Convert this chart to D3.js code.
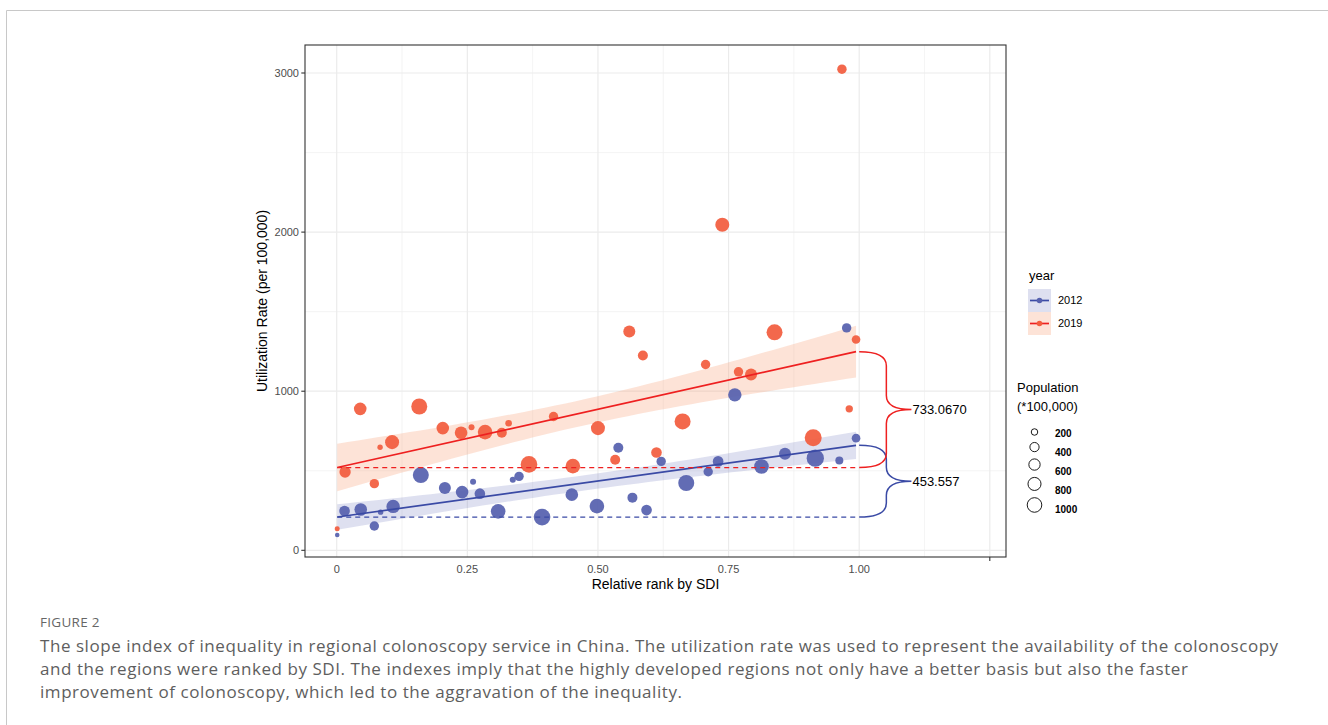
<!DOCTYPE html>
<html>
<head>
<meta charset="utf-8">
<script src="https://cdn.jsdelivr.net/npm/d3@7"></script>
<style>
  body { margin: 0; background: #fff; }
  svg { display: block; }
  .tick-label { font-family: "Liberation Sans", Arial, sans-serif; font-size: 11px; fill: #4d4d4d; }
  .axis-title { font-family: "Liberation Sans", Arial, sans-serif; font-size: 14px; fill: #000; }
  .legend-text { font-family: "Liberation Sans", Arial, sans-serif; fill: #000; }
  .caption { font-family: "Open Sans", sans-serif; fill: #5e5e5e; }
</style>
</head>
<body>
<div id="svg_container"></div>
<script>
/* -----------------------
data
------------------------- */

var years = ["2012", "2019"];

var rank2012 = [0.001, 0.015, 0.046, 0.072, 0.084, 0.108, 0.161, 0.207, 0.240, 0.261, 0.274, 0.309, 0.337, 0.349, 0.393, 0.450,
  0.498, 0.539, 0.566, 0.593, 0.621, 0.669, 0.711, 0.730, 0.762, 0.813, 0.858, 0.916, 0.962, 0.976, 0.994];
var rate2012 = [96, 247, 257, 153, 240, 276, 473, 391, 366, 431, 356, 245, 444, 465, 209, 350,
  278, 645, 331, 253, 559, 423, 494, 559, 977, 527, 607, 579, 565, 1398, 705];
var pop2012 = [100, 530, 745, 415, 137, 840, 1200, 676, 745, 169, 530, 1000, 169, 415, 1300, 745,
  1000, 469, 469, 530, 415, 1200, 415, 530, 840, 1000, 676, 1400, 300, 415, 350];

var rank2019 = [0.001, 0.016, 0.045, 0.072, 0.083, 0.106, 0.158, 0.203, 0.238, 0.258, 0.284, 0.316, 0.329, 0.368, 0.415, 0.452,
  0.500, 0.533, 0.560, 0.586, 0.612, 0.662, 0.706, 0.738, 0.769, 0.793, 0.838, 0.912, 0.967, 0.981, 0.994];
var rate2019 = [136, 492, 889, 419, 648, 680, 904, 768, 739, 774, 743, 739, 799, 540, 841, 529,
  768, 569, 1375, 1224, 615, 810, 1168, 2046, 1122, 1105, 1370, 707, 3024, 889, 1325];
var pop2019 = [117, 600, 745, 415, 137, 920, 1200, 745, 745, 169, 1000, 469, 204, 1300, 415, 1000,
  920, 469, 676, 469, 530, 1200, 415, 920, 415, 676, 1200, 1350, 415, 255, 350];

// fitted lines (intercept at rank 0, slope = SII) and confidence band widths
var fitIntercept = [209, 520];
var fitSlope = [453.557, 733.067];
var ciMin = [48, 82];
var ciLeft = [80, 150];
var ciCenter = [0.47, 0.47];
var siiLabels = ["453.557", "733.0670"];

var xTicks = [0, 0.25, 0.5, 0.75, 1.0];
var xTickLabels = ["0", "0.25", "0.50", "0.75", "1.00"];
var yTicks = [0, 1000, 2000, 3000];
var popBreaks = [200, 400, 600, 800, 1000];

var captionLines = [
  "The slope index of inequality in regional colonoscopy service in China. The utilization rate was used to represent the availability of the colonoscopy",
  "and the regions were ranked by SDI. The indexes imply that the highly developed regions not only have a better basis but also the faster",
  "improvement of colonoscopy, which led to the aggravation of the inequality."
];

/* -----------------------
main variables
------------------------- */

var width = 1328, height = 725;
var panel = {left: 305, right: 1006, top: 45, bottom: 557};

var pointColor = ["#5661ae", "#f25d3e"];
var lineColor = ["#3a4aa5", "#ee2020"];
var bandColor = ["#6f7bc0", "#f8a27a"];
var bandOpacity = [0.23, 0.3];

var series = [
  {rank: rank2012, rate: rate2012, pop: pop2012},
  {rank: rank2019, rate: rate2019, pop: pop2019}
];

var svg = d3.select("#svg_container")
  .append("svg")
  .attr("width", width)
  .attr("height", height);

// figure frame
svg.append("path")
  .attr("d", "M6.5,725 L6.5,10.5 L1328,10.5")
  .attr("fill", "none")
  .attr("stroke", "#c8c8c8")
  .attr("stroke-width", 1);

var x = d3.scaleLinear().domain([-0.0607, 1.281]).range([panel.left, panel.right]);
var y = d3.scaleLinear().domain([-42, 3176]).range([panel.bottom, panel.top]);
var r = d3.scaleSqrt().domain([0, 1000]).range([0, 7.3]);

var plot = svg.append("g");

/* -----------------------
grid
------------------------- */

var xMajor = d3.range(0, 1.26, 0.25);
var xMinor = d3.range(0.125, 1.2, 0.25);
var yMajor = yTicks;
var yMinor = [500, 1500, 2500];

plot.selectAll(".gx-minor").data(xMinor).enter().append("line")
  .attr("x1", function(d) { return x(d); }).attr("x2", function(d) { return x(d); })
  .attr("y1", panel.top).attr("y2", panel.bottom)
  .attr("stroke", "#efefef").attr("stroke-width", 0.7);
plot.selectAll(".gy-minor").data(yMinor).enter().append("line")
  .attr("y1", function(d) { return y(d); }).attr("y2", function(d) { return y(d); })
  .attr("x1", panel.left).attr("x2", panel.right)
  .attr("stroke", "#efefef").attr("stroke-width", 0.7);
plot.selectAll(".gx").data(xMajor).enter().append("line")
  .attr("x1", function(d) { return x(d); }).attr("x2", function(d) { return x(d); })
  .attr("y1", panel.top).attr("y2", panel.bottom)
  .attr("stroke", "#ebebeb").attr("stroke-width", 1.2);
plot.selectAll(".gy").data(yMajor).enter().append("line")
  .attr("y1", function(d) { return y(d); }).attr("y2", function(d) { return y(d); })
  .attr("x1", panel.left).attr("x2", panel.right)
  .attr("stroke", "#ebebeb").attr("stroke-width", 1.2);

/* -----------------------
bands, points, lines
------------------------- */

function fit(i, t) { return fitIntercept[i] + fitSlope[i] * t; }
function halfWidth(i, t) {
  var k = (ciLeft[i] * ciLeft[i] - ciMin[i] * ciMin[i]) / (ciCenter[i] * ciCenter[i]);
  return Math.sqrt(ciMin[i] * ciMin[i] + k * (t - ciCenter[i]) * (t - ciCenter[i]));
}

series.forEach(function(s, i) {
  var ext = d3.extent(s.rank);
  var ts = d3.range(0, 51).map(function(j) { return ext[0] + (ext[1] - ext[0]) * j / 50; });
  var area = d3.area()
    .x(function(t) { return x(t); })
    .y0(function(t) { return y(fit(i, t) - halfWidth(i, t)); })
    .y1(function(t) { return y(fit(i, t) + halfWidth(i, t)); });
  plot.append("path")
    .attr("d", area(ts))
    .attr("fill", bandColor[i])
    .attr("opacity", bandOpacity[i]);
});

series.forEach(function(s, i) {
  var pts = s.rank.map(function(d, j) { return {rank: d, rate: s.rate[j], pop: s.pop[j]}; });
  plot.selectAll(".pt" + i).data(pts).enter().append("circle")
    .attr("cx", function(d) { return x(d.rank); })
    .attr("cy", function(d) { return y(d.rate); })
    .attr("r", function(d) { return r(d.pop); })
    .attr("fill", pointColor[i])
    .attr("fill-opacity", 0.93);
});

function brace(x0, x1, x2, y0, y1, rr) {
  var ym = (y0 + y1) / 2;
  return "M" + x0 + "," + y0 +
    " Q" + x1 + "," + y0 + " " + x1 + "," + (y0 + rr) +
    " L" + x1 + "," + (ym - rr) +
    " Q" + x1 + "," + ym + " " + x2 + "," + ym +
    " Q" + x1 + "," + ym + " " + x1 + "," + (ym + rr) +
    " L" + x1 + "," + (y1 - rr) +
    " Q" + x1 + "," + y1 + " " + x0 + "," + y1;
}

series.forEach(function(s, i) {
  var ext = d3.extent(s.rank);
  // fitted line
  plot.append("line")
    .attr("x1", x(ext[0])).attr("y1", y(fit(i, ext[0])))
    .attr("x2", x(ext[1])).attr("y2", y(fit(i, ext[1])))
    .attr("stroke", lineColor[i]).attr("stroke-width", 1.7);
  // dashed baseline
  plot.append("line")
    .attr("x1", x(ext[0])).attr("y1", y(fitIntercept[i]))
    .attr("x2", x(1.0)).attr("y2", y(fitIntercept[i]))
    .attr("stroke", lineColor[i]).attr("stroke-width", 1.3)
    .attr("stroke-dasharray", "5,4");
  // brace
  var top = y(fit(i, ext[1])), bot = y(fitIntercept[i]);
  plot.append("path")
    .attr("d", brace(x(1.0), x(1.052), x(1.1), top, bot, 14))
    .attr("fill", "none")
    .attr("stroke", lineColor[i]).attr("stroke-width", 1.5);
  plot.append("text")
    .attr("class", "legend-text")
    .attr("x", x(1.1) + 1)
    .attr("y", (top + bot) / 2)
    .attr("dy", "0.35em")
    .style("font-size", "13px")
    .text(siiLabels[i]);
});

/* -----------------------
panel border & axes
------------------------- */

plot.append("rect")
  .attr("x", panel.left).attr("y", panel.top)
  .attr("width", panel.right - panel.left).attr("height", panel.bottom - panel.top)
  .attr("fill", "none").attr("stroke", "#333").attr("stroke-width", 1.1);

plot.selectAll(".yt").data(yTicks).enter().append("line")
  .attr("x1", panel.left - 3.7).attr("x2", panel.left)
  .attr("y1", function(d) { return y(d); }).attr("y2", function(d) { return y(d); })
  .attr("stroke", "#333").attr("stroke-width", 1.1);
plot.selectAll(".ytl").data(yTicks).enter().append("text")
  .attr("class", "tick-label")
  .attr("x", panel.left - 6)
  .attr("y", function(d) { return y(d); })
  .attr("dy", "0.35em")
  .attr("text-anchor", "end")
  .text(function(d) { return d; });

plot.selectAll(".xtl").data(xTicks).enter().append("text")
  .attr("class", "tick-label")
  .attr("x", function(d) { return x(d); })
  .attr("y", panel.bottom + 12)
  .attr("dy", "0.35em")
  .attr("text-anchor", "middle")
  .text(function(d, i) { return xTickLabels[i]; });
plot.append("line")
  .attr("x1", x(1.25)).attr("x2", x(1.25))
  .attr("y1", panel.bottom).attr("y2", panel.bottom + 4)
  .attr("stroke", "#333").attr("stroke-width", 1.1);

plot.append("text")
  .attr("class", "axis-title")
  .attr("x", (panel.left + panel.right) / 2)
  .attr("y", 589)
  .attr("text-anchor", "middle")
  .text("Relative rank by SDI");

plot.append("text")
  .attr("class", "axis-title")
  .attr("transform", "translate(267," + ((panel.top + panel.bottom) / 2) + ") rotate(-90)")
  .attr("text-anchor", "middle")
  .text("Utilization Rate (per 100,000)");

/* -----------------------
legends
------------------------- */

var leg = svg.append("g");
leg.append("text").attr("class", "legend-text")
  .attr("x", 1029).attr("y", 280).style("font-size", "13px").text("year");

years.forEach(function(yr, i) {
  var top = 289 + i * 23;
  leg.append("rect")
    .attr("x", 1028).attr("y", top).attr("width", 23).attr("height", 23)
    .attr("fill", bandColor[i]).attr("opacity", bandOpacity[i]);
  leg.append("line")
    .attr("x1", 1030).attr("x2", 1049).attr("y1", top + 11.5).attr("y2", top + 11.5)
    .attr("stroke", lineColor[i]).attr("stroke-width", 1.7);
  leg.append("circle")
    .attr("cx", 1039.5).attr("cy", top + 11.5).attr("r", 2.8)
    .attr("fill", pointColor[i]);
  leg.append("text").attr("class", "legend-text")
    .attr("x", 1058).attr("y", top + 11.5).attr("dy", "0.35em")
    .style("font-size", "11px").text(yr);
});

leg.append("text").attr("class", "legend-text")
  .attr("x", 1017).attr("y", 392).style("font-size", "13px").text("Population");
leg.append("text").attr("class", "legend-text")
  .attr("x", 1017).attr("y", 411).style("font-size", "13px").text("(*100,000)");

var cy = 432;
popBreaks.forEach(function(p, i) {
  if (i > 0) cy += r(popBreaks[i - 1]) + r(p) + 7.2;
  leg.append("circle")
    .attr("cx", 1034.5).attr("cy", cy).attr("r", r(p))
    .attr("fill", "none").attr("stroke", "#000").attr("stroke-width", 0.9);
  leg.append("text").attr("class", "legend-text")
    .attr("x", 1055).attr("y", 433 + i * 19.1).attr("dy", "0.35em")
    .style("font-size", "10px").style("font-weight", "bold")
    .text(p);
});

/* -----------------------
caption
------------------------- */

svg.append("text").attr("class", "caption")
  .attr("x", 40).attr("y", 627)
  .style("font-size", "13.5px").style("fill", "#666")
  .style("letter-spacing", "0.3px")
  .text("FIGURE 2");

svg.selectAll(".cap").data(captionLines).enter().append("text")
  .attr("class", "caption")
  .attr("x", 40)
  .attr("y", function(d, i) { return 652 + i * 23; })
  .style("font-size", "17px")
  .style("letter-spacing", "0.55px")
  .text(function(d) { return d; });
</script>
</body>
</html>
